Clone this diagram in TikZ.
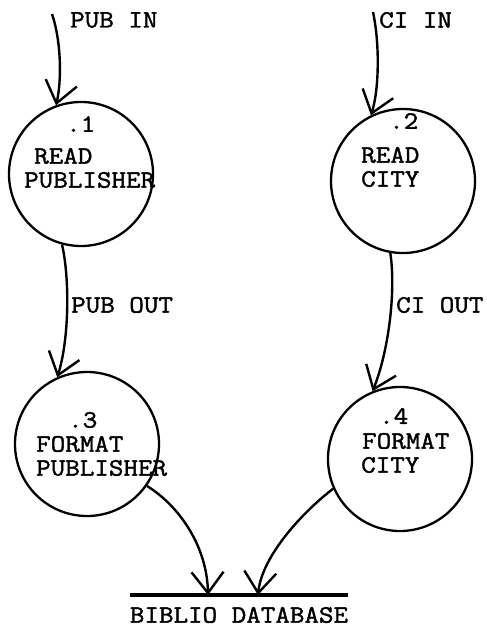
\documentclass[tikz,border=0pt]{standalone}
\usepackage{fontspec}
\newfontfamily\typewr[FakeBold=1.6,FakeStretch=1.13]{Latin Modern Mono}
\usetikzlibrary{arrows.meta}
\begin{document}
\begin{tikzpicture}[x=1pt,y=-1pt,
  proc/.style={circle,draw,line width=2.3pt,minimum size=144pt,inner sep=0pt},
  txt/.style={font=\typewr\fontsize{25}{27}\selectfont,inner sep=0pt,anchor=west},
  flow/.style={line width=2.4pt,-{Straight Barb[length=21pt,width=32pt,line width=2.4pt]}},
  bar/.style={line width=3.5pt}]
\useasboundingbox[fill=white] (0,0) rectangle (487,629);

% processes
\node[proc] (c1) at (81,174) {};
\node[proc] (c2) at (403,181) {};
\node[proc] (c3) at (87,444) {};
\node[proc] (c4) at (400,459) {};

% process texts
\node[txt] (n1) at (66,124) {.1};
\node[txt] (r1) at (34,156) {READ};
\node[txt] (p1) at (24,180) {PUBLISHER};
\node[txt] (n2) at (389,121) {.2};
\node[txt] (r2) at (361,155) {READ};
\node[txt] (t2) at (361,179) {CITY};
\node[txt] (n3) at (68,420) {.3};
\node[txt] (f3) at (36,444) {FORMAT};
\node[txt] (p3) at (36,468) {PUBLISHER};
\node[txt] (n4) at (379,416) {.4};
\node[txt] (f4) at (362,441) {FORMAT};
\node[txt] (t4) at (361,465) {CITY};

% data store
\node[txt,anchor=center] (db) at (239,615) {BIBLIO DATABASE};
\draw[bar] ([yshift=12pt]db.north west) -- ([yshift=12pt]db.north east);
\coordinate (dbA) at (208,595);
\coordinate (dbB) at (258,595);

% flow labels
\node[txt] (lpi) at (70,20) {PUB IN};
\node[txt] (lci) at (379,20) {CI IN};
\node[txt] (lpo) at (71,305) {PUB OUT};
\node[txt] (lco) at (396,305) {CI OUT};

% flows
\coordinate (pubin) at (52,14);
\coordinate (ciin) at (373,12);
\draw[flow] (pubin) .. controls (61,40) and (62,80) .. (c1.110);
\draw[flow] (ciin) .. controls (380,45) and (379,90) .. (c2.116);
\draw[flow] (c1.255) .. controls (70,280) and (69,340) .. (c3.114);
\draw[flow] (c2.260) .. controls (396,290) and (389,350) .. (c4.112);
\draw[flow] (c3.325) .. controls (178,505) and (207,545) .. (dbA);
\draw[flow] (c4.204) .. controls (305,510) and (262,555) .. (dbB);
\end{tikzpicture}
\end{document}
